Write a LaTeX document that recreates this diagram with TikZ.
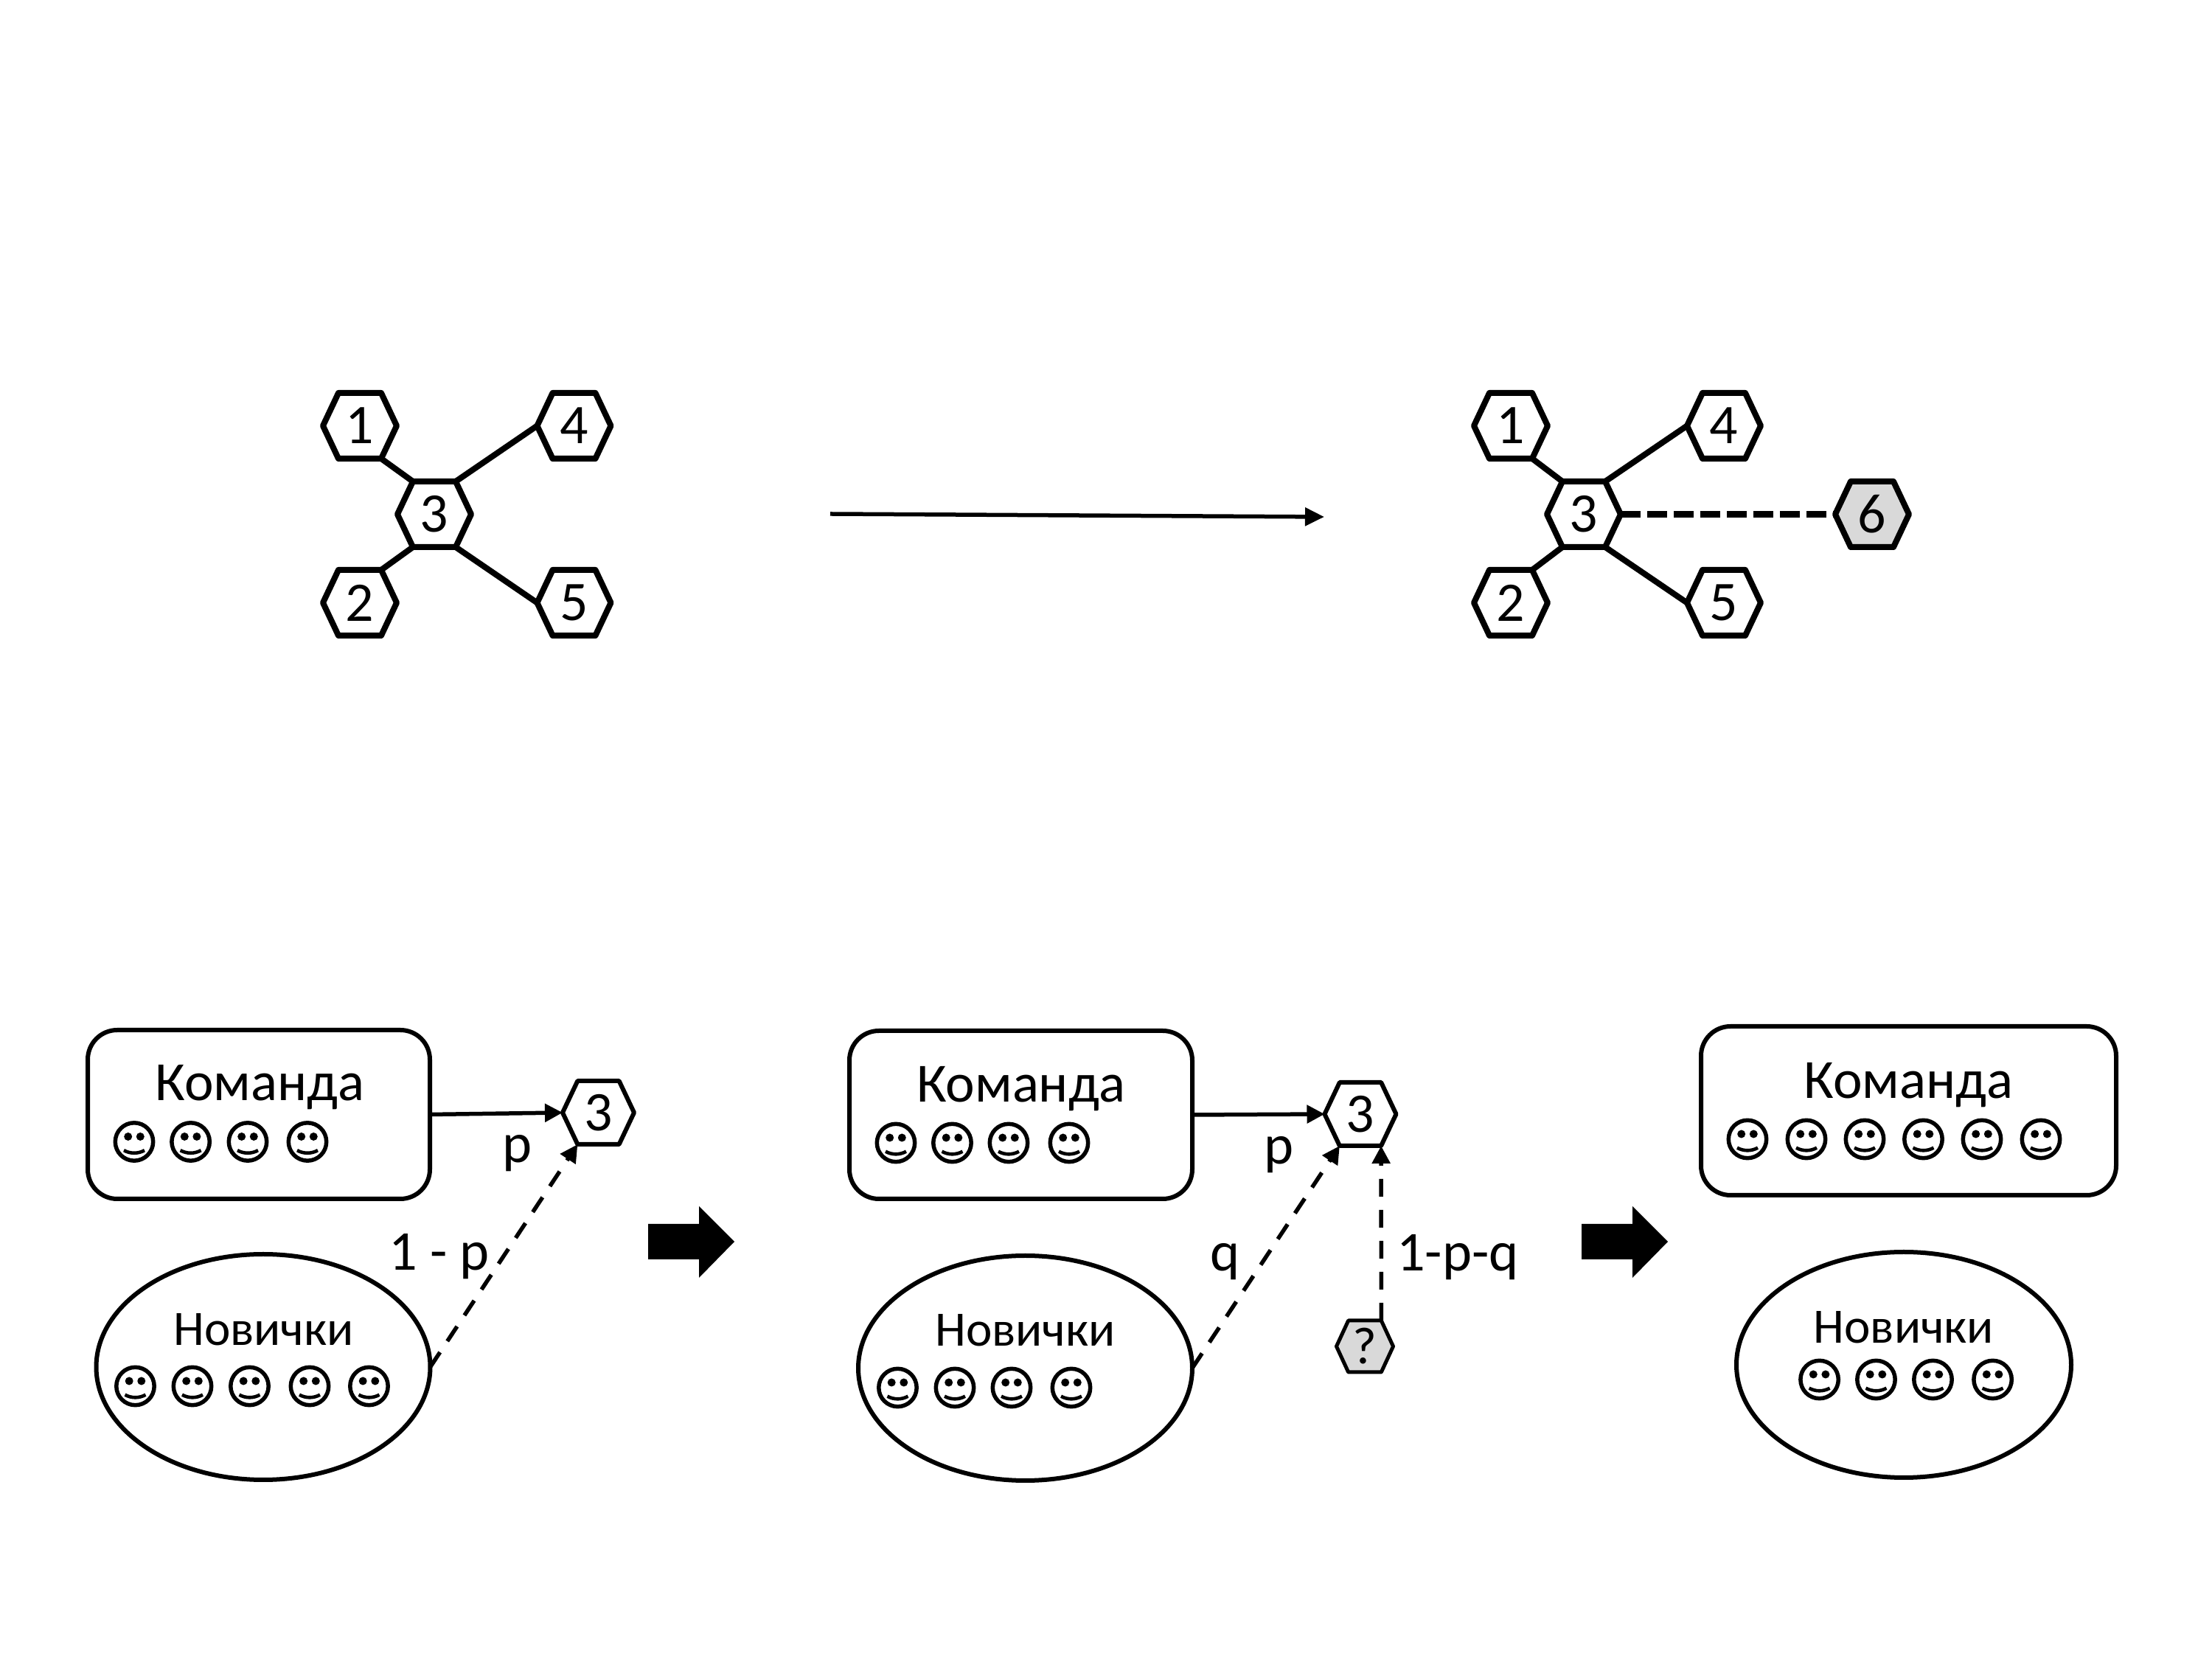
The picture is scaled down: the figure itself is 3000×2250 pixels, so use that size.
\documentclass[tikz,border=0pt]{standalone}
\usepackage{fontspec}
\setmainfont{Carlito}
\usetikzlibrary{arrows.meta,shapes.geometric}
\newcommand{\pxu}{0.24pt}
\newdimen\hexL \newdimen\hexR \newdimen\hexT \newdimen\hexB \newdimen\hexM \newdimen\hexI \newdimen\hexO
\makeatletter
\def\hexaprep{%
  \pgf@process{\southwest}\hexL=\pgf@x\hexB=\pgf@y
  \pgf@process{\northeast}\hexR=\pgf@x\hexT=\pgf@y
  \hexM=.5\hexB\advance\hexM by .5\hexT
  \hexO=.79\hexR\advance\hexO by .21\hexL
  \hexI=.21\hexR\advance\hexI by .79\hexL}
\pgfdeclareshape{hexa}{%
  \inheritsavedanchors[from=rectangle]
  \inheritanchorborder[from=rectangle]
  \inheritanchor[from=rectangle]{center}
  \inheritanchor[from=rectangle]{west}
  \inheritanchor[from=rectangle]{east}
  \anchor{tr}{\hexaprep\pgf@x=\hexO\pgf@y=\hexT}
  \anchor{tl}{\hexaprep\pgf@x=\hexI\pgf@y=\hexT}
  \anchor{br}{\hexaprep\pgf@x=\hexO\pgf@y=\hexB}
  \anchor{bl}{\hexaprep\pgf@x=\hexI\pgf@y=\hexB}
  \backgroundpath{%
    \hexaprep
    \pgfpathmoveto{\pgfqpoint{\hexL}{\hexM}}%
    \pgfpathlineto{\pgfqpoint{\hexI}{\hexT}}%
    \pgfpathlineto{\pgfqpoint{\hexO}{\hexT}}%
    \pgfpathlineto{\pgfqpoint{\hexR}{\hexM}}%
    \pgfpathlineto{\pgfqpoint{\hexO}{\hexB}}%
    \pgfpathlineto{\pgfqpoint{\hexI}{\hexB}}%
    \pgfpathclose}%
}
\makeatother
\definecolor{hexgray}{HTML}{D9D9D9}
\tikzset{
  hexbase/.style={shape=hexa,draw=black,inner sep=0pt,outer sep=0pt,line join=round,font=\fontsize{18.2}{20}\selectfont},
  hexbig/.style={hexbase,minimum width=100*\pxu,minimum height=89*\pxu,line width=8*\pxu},
  hexmid/.style={hexbase,minimum width=97*\pxu,minimum height=86*\pxu,line width=6*\pxu},
  hexsmall/.style={hexbase,minimum width=77*\pxu,minimum height=70*\pxu,line width=5*\pxu,font=\fontsize{17}{20}\selectfont},
  grayhex/.style={fill=hexgray},
  whitehex/.style={fill=white},
  teambox/.style={draw=black,fill=white,rectangle,rounded corners=40*\pxu,line width=6*\pxu,inner sep=0pt,outer sep=0pt},
  newbox/.style={draw=black,fill=white,ellipse,line width=6*\pxu,inner sep=0pt,outer sep=0pt},
  teamtext/.style={anchor=base,inner sep=0pt,font=\fontsize{18}{20}\selectfont},
  newtext/.style={anchor=base,inner sep=0pt,font=\fontsize{16.1}{20}\selectfont},
  problabel/.style={anchor=base,inner sep=0pt,font=\fontsize{18.3}{20}\selectfont},
  tie/.style={line width=8*\pxu},
  tiedash/.style={line width=9*\pxu,dash pattern=on 27*\pxu off 9*\pxu},
  flow/.style={line width=5.5*\pxu,-{Triangle[length=24*\pxu,width=24*\pxu]}},
  flowdash/.style={flow,dash pattern=on 24*\pxu off 18*\pxu},
  smiley/.pic={
    \draw[line width=5.5*\pxu] (0,0) circle[radius=25.7*\pxu];
    \fill (-8.3,-7) circle[radius=5.5*\pxu] (8.3,-7) circle[radius=5.5*\pxu];
    \draw[line width=4.6*\pxu] (-14,11.7) .. controls (-5,16.5) and (5,16.5) .. (14,11.7);
  }
}
\begin{document}
\begin{tikzpicture}[x=0.24pt,y=-0.24pt]
\useasboundingbox (0,0) rectangle (3000,2250);
\fill[white] (0,0) rectangle (3000,2250);

% --- top left graph
\node[hexbig,whitehex] (a1) at (488,577.5) {1};
\node[hexbig,whitehex] (a2) at (488,817.5) {2};
\node[hexbig,whitehex] (a3) at (589,697.5) {3};
\node[hexbig,whitehex] (a4) at (778.5,577.5) {4};
\node[hexbig,whitehex] (a5) at (778.5,817.5) {5};
\draw[tie] (a1.br) -- (a3.tl);
\draw[tie] (a2.tr) -- (a3.bl);
\draw[tie] (a3.tr) -- (a4.west);
\draw[tie] (a3.br) -- (a5.west);

% --- long arrow
\coordinate (ls) at (1126,697);
\coordinate (le) at (1796,701);
\draw[line width=5.5*\pxu,-{Triangle[length=26*\pxu,width=24*\pxu]}] (ls) -- (le);

% --- top right graph
\node[hexbig,whitehex] (b1) at (2049,577.5) {1};
\node[hexbig,whitehex] (b2) at (2049,817.5) {2};
\node[hexbig,whitehex] (b3) at (2148,697.5) {3};
\node[hexbig,whitehex] (b4) at (2338,577.5) {4};
\node[hexbig,whitehex] (b5) at (2338,817.5) {5};
\node[hexbig,grayhex] (b6) at (2539,697.5) {6};
\draw[tie] (b1.br) -- (b3.tl);
\draw[tie] (b2.tr) -- (b3.bl);
\draw[tie] (b3.tr) -- (b4.west);
\draw[tie] (b3.br) -- (b5.west);
\draw[tiedash] (b3.east) -- (b6.west);

% --- bottom left panel
\node[teambox,minimum width=464*\pxu,minimum height=229*\pxu] (cmdA) at (351,1511.5) {};
\node[newbox,minimum width=453*\pxu,minimum height=306*\pxu] (newA) at (357,1854) {};
\node[teamtext] (cmdAt) at (352.5,1493) {Команда};
\node[newtext] (newAt) at (357.5,1824.5) {Новички};
\foreach \x in {182,258.6,336,417} \pic at (\x,1548.5) {smiley};
\foreach \x in {183.5,261,338.5,420,500.5} \pic at (\x,1880) {smiley};
\node[hexmid,whitehex] (hA) at (811.5,1509) {3};
\draw[flow] (cmdA.east) -- (hA.west);
\draw[flowdash] (newA.east) -- (hA.bl);
\node[problabel] (pA) at (702,1577) {p};
\node[problabel] (rA) at (595.5,1722.5) {1 - p};

% --- block arrows
\fill (879,1660) -- (948,1660) -- (948,1636) -- (996,1684) -- (948,1733) -- (948,1708) -- (879,1708) -- cycle;
\fill (2145,1660) -- (2214,1660) -- (2214,1636) -- (2262,1684) -- (2214,1733) -- (2214,1708) -- (2145,1708) -- cycle;

% --- bottom middle panel
\node[teambox,minimum width=465*\pxu,minimum height=228*\pxu] (cmdB) at (1384.5,1512) {};
\node[newbox,minimum width=453*\pxu,minimum height=305*\pxu] (newB) at (1390.5,1855.5) {};
\node[teamtext] (cmdBt) at (1385,1494.5) {Команда};
\node[newtext] (newBt) at (1390.5,1825.5) {Новички};
\foreach \x in {1215,1291.5,1368,1450} \pic at (\x,1550) {smiley};
\foreach \x in {1217.5,1295,1372,1453} \pic at (\x,1882) {smiley};
\node[hexmid,whitehex] (hB) at (1845,1511) {3};
\node[hexsmall,grayhex] (hQ) at (1851,1826) {?};
\draw[flow] (cmdB.east) -- (hB.west);
\draw[flowdash] (newB.east) -- (hB.bl);
\draw[flowdash] (hQ.tr) -- (hB.br);
\node[problabel] (pB) at (1735,1578.5) {p};
\node[problabel] (qB) at (1662,1724) {q};
\node[problabel] (rB) at (1977,1724) {1-p-q};

% --- bottom right panel
\node[teambox,minimum width=563*\pxu,minimum height=229*\pxu] (cmdC) at (2588.5,1506.5) {};
\node[newbox,minimum width=454*\pxu,minimum height=306*\pxu] (newC) at (2582,1851) {};
\node[teamtext] (cmdCt) at (2588.5,1490) {Команда};
\node[newtext] (newCt) at (2582,1821.5) {Новички};
\foreach \x in {2370,2450,2529,2608.5,2688,2768} \pic at (\x,1545) {smiley};
\foreach \x in {2467.6,2544.5,2621.5,2702.6} \pic at (\x,1871) {smiley};
\end{tikzpicture}
\end{document}
